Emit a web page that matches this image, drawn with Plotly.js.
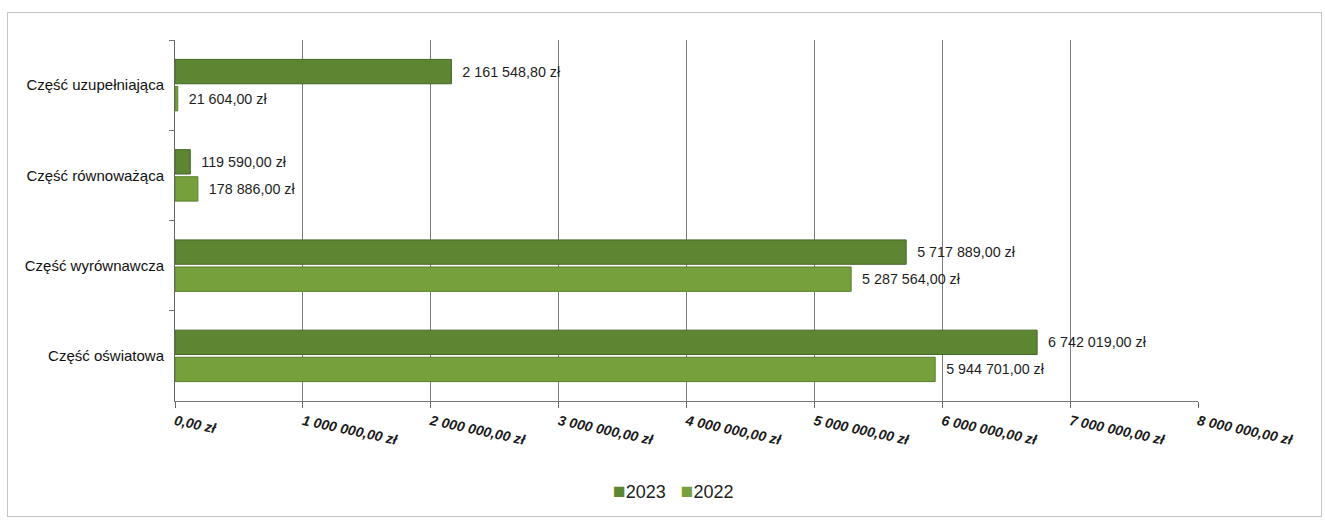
<!DOCTYPE html>
<html lang="pl">
<head>
<meta charset="utf-8">
<script src="https://cdn.plot.ly/plotly-3.0.1.min.js"></script>
<style>
  html, body { margin: 0; padding: 0; background: #fff; }
  #wrap { position: relative; width: 1325px; height: 520px; }
  #chart { width: 1325px; height: 520px; }
  #frame {
    position: absolute; left: 7px; top: 12px; width: 1313px; height: 503px;
    border: 1px solid #c4c4c4; pointer-events: none;
  }
</style>
</head>
<body>
<div id="wrap">
  <div id="chart"></div>
  <div id="frame"></div>
</div>
<script>
// Subwencja ogólna – części składowe, porównanie lat 2023 i 2022
const categories = [
  'Część uzupełniająca',
  'Część równoważąca',
  'Część wyrównawcza',
  'Część oświatowa'
];
const values2023 = [2161548.80, 119590.00, 5717889.00, 6742019.00];
const values2022 = [21604.00, 178886.00, 5287564.00, 5944701.00];
const seriesNames = ['2023', '2022'];
const seriesColors = ['#5d8632', '#75a03b'];
const seriesEdges = ['#45662a', '#587f2c'];

const baseFamily = 'Liberation Sans, Arial, sans-serif';
const labelFont = { family: baseFamily, size: 14.3, color: '#1e1e1e' };

function barTrace(i, values) {
  return {
    type: 'bar',
    orientation: 'h',
    name: seriesNames[i],
    y: categories,
    x: values,
    marker: { color: seriesColors[i], line: { color: seriesEdges[i], width: 1 } },
    texttemplate: '\u00a0\u00a0%{x:,.2f} zł',
    textposition: 'outside',
    cliponaxis: false,
    textfont: labelFont,
    hoverinfo: 'skip',
    showlegend: false
  };
}

const data = [barTrace(0, values2023), barTrace(1, values2022)];

// Legend drawn as one centred line of text with small coloured squares
const legendText = seriesNames.map((n, i) =>
  '<span style="color:' + seriesColors[i] + ';font-size:21px">■</span>' + n
).join('\u00a0\u00a0\u00a0');

const layout = {
  width: 1325,
  height: 520,
  margin: { l: 175, r: 127, t: 40, b: 119 },
  paper_bgcolor: '#ffffff',
  plot_bgcolor: '#ffffff',
  separators: ', ',
  barmode: 'group',
  bargap: 0.4,
  bargroupgap: 0.1,
  showlegend: false,
  annotations: [{
    xref: 'paper', yref: 'paper',
    x: 0.487, y: -0.247,
    xanchor: 'center', yanchor: 'middle',
    showarrow: false,
    text: legendText,
    font: { family: baseFamily, size: 18, color: '#222' }
  }],
  xaxis: {
    range: [0, 8000000],
    dtick: 1000000,
    tick0: 0,
    tickformat: ',.2f',
    ticksuffix: ' zł',
    tickangle: 12,
    ticks: 'outside',
    ticklen: 6,
    tickcolor: '#666',
    showgrid: true,
    gridcolor: '#7a7a7a',
    gridwidth: 1,
    zeroline: false,
    showline: true,
    linecolor: '#777',
    linewidth: 1,
    tickfont: { family: baseFamily, size: 14, color: '#1a1a1a', style: 'italic', weight: 'bold' },
    fixedrange: true
  },
  yaxis: {
    type: 'category',
    autorange: 'reversed',
    showline: true,
    linecolor: '#666',
    linewidth: 1,
    ticks: 'outside',
    tickson: 'boundaries',
    ticklen: 5,
    tickcolor: '#777',
    showgrid: false,
    zeroline: false,
    tickfont: { family: baseFamily, size: 15, color: '#111' },
    ticklabelstandoff: 7,
    fixedrange: true
  }
};

Plotly.newPlot('chart', data, layout, { displayModeBar: false, staticPlot: true });
</script>
</body>
</html>
